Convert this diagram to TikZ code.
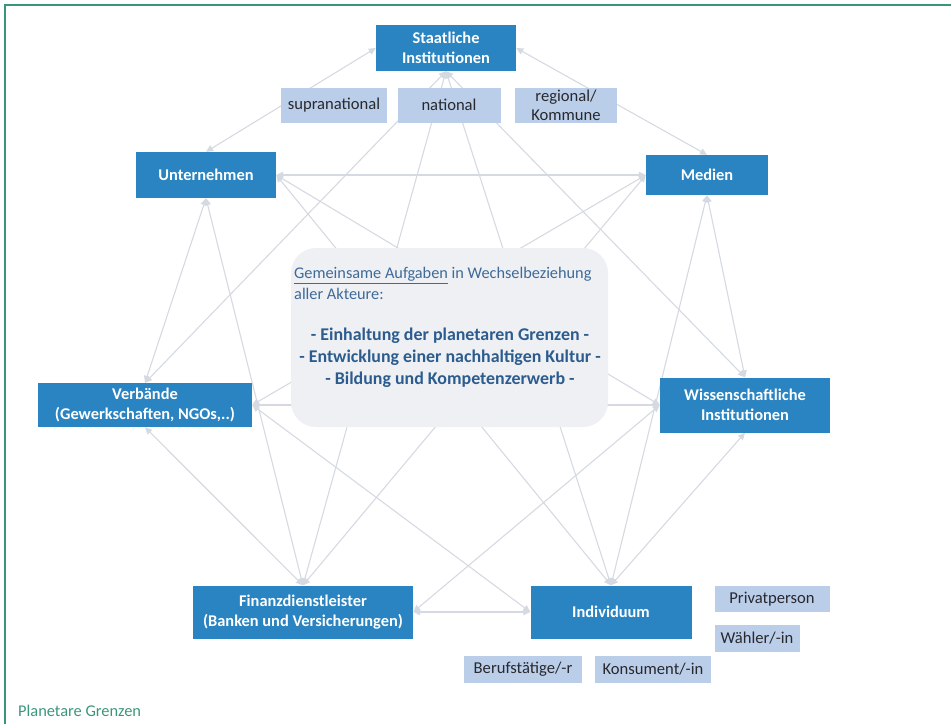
\documentclass[tikz,border=0pt]{standalone}
\usepackage{fontspec}
\setmainfont{Carlito}
\usetikzlibrary{arrows.meta}
\usetikzlibrary{backgrounds}
\definecolor{akteur-blue}{RGB}{41, 132, 193}
\definecolor{ebene-blue}{RGB}{186, 206, 234}
\definecolor{ebene-text}{RGB}{40, 40, 45}
\definecolor{linie-grey}{RGB}{213, 217, 225}
\definecolor{kasten-grey}{RGB}{238, 240, 244}
\definecolor{intro-blue}{RGB}{62, 106, 153}
\definecolor{ziel-blue}{RGB}{44, 92, 142}
\definecolor{rahmen-green}{RGB}{58, 150, 122}

\begin{document}
\begin{tikzpicture}[x=1pt, y=-1pt,
                akteur/.style={fill=akteur-blue, text=white, font=\bfseries\fontsize{16.4}{20}\selectfont, align=center, inner sep=0pt},
                ebene/.style={fill=ebene-blue, text=ebene-text, font=\fontsize{16.6}{19}\selectfont, align=center, inner sep=0pt},
                beziehung/.style={draw=linie-grey, line width=1.1pt, {Triangle[length=7pt,width=6.5pt]}-{Triangle[length=7pt,width=6.5pt]}}]
                \useasboundingbox (0, 0) rectangle (951, 724);
                \node[akteur, minimum width=140pt, minimum height=46pt] (staat) at (446, 48) {Staatliche\\Institutionen};
                \node[akteur, minimum width=140pt, minimum height=46pt] (unternehmen) at (206, 175) {Unternehmen};
                \node[akteur, minimum width=122pt, minimum height=40pt] (medien) at (707, 175) {Medien};
                \node[akteur, minimum width=214pt, minimum height=44pt] (verbaende) at (145, 405) {Verbände\\(Gewerkschaften, NGOs,..)};
                \node[akteur, minimum width=170pt, minimum height=55pt] (wissenschaft) at (745, 405) {Wissenschaftliche\\Institutionen};
                \node[akteur, minimum width=220pt, minimum height=53pt] (finanz) at (303, 612) {Finanzdienstleister\\(Banken und Versicherungen)};
                \node[akteur, minimum width=161pt, minimum height=53pt] (individuum) at (611, 612) {Individuum};
                \node[ebene, minimum width=106pt, minimum height=35pt] (supranational) at (334, 105) {supranational};
                \node[ebene, minimum width=103pt, minimum height=35pt] (national) at (449, 105) {national};
                \node[ebene, minimum width=102pt, minimum height=35pt] (regional) at (566, 105) {regional/\\Kommune};
                \node[ebene, minimum width=115pt, minimum height=26pt] (privat) at (772, 599) {Privatperson};
                \node[ebene, minimum width=85pt, minimum height=27pt] (waehler) at (757, 638) {Wähler/-in};
                \node[ebene, minimum width=118pt, minimum height=27pt] (beruf) at (523, 669) {Berufstätige/-r};
                \node[ebene, minimum width=116pt, minimum height=27pt] (konsument) at (653, 669) {Konsument/-in};
                \node[fill=kasten-grey, rounded corners=25pt, minimum width=317pt, minimum height=179pt] (aufgaben) at (449.5, 337.5) {};
                \node[anchor=north west, text=intro-blue, align=left, inner sep=0pt, font=\fontsize{16.3}{21}\selectfont] (einleitung) at (294, 267) {\underline{Gemeinsame Aufgaben} in Wechselbeziehung\\aller Akteure:};
                \node[text=ziel-blue, align=center, inner sep=0pt, font=\bfseries\fontsize{17.9}{22}\selectfont] (ziele) at (450, 358) {- Einhaltung der planetaren Grenzen -\\- Entwicklung einer nachhaltigen Kultur -\\- Bildung und Kompetenzerwerb -};
                \node[anchor=base west, text=rahmen-green, inner sep=0pt, font=\fontsize{16.4}{18}\selectfont] (titel) at (18, 716) {Planetare Grenzen};
                \begin{scope}[on background layer]
                \draw[rahmen-green, line width=2.5pt] (951, 5) -- (5, 5) -- (5, 724);
                \draw[beziehung] (staat.west) -- (unternehmen.north);
                \draw[beziehung] (staat.east) -- (medien.north);
                \draw[beziehung] (staat.south) -- (verbaende.north);
                \draw[beziehung] (staat.south) -- (wissenschaft.north);
                \draw[beziehung] (staat.south) -- (finanz.north);
                \draw[beziehung] (staat.south) -- (individuum.north);
                \draw[beziehung] (unternehmen.east) -- (medien.west);
                \draw[beziehung] (unternehmen.south) -- (verbaende.north);
                \draw[beziehung] (unternehmen.south) -- (finanz.north);
                \draw[beziehung] (unternehmen.east) -- (wissenschaft.west);
                \draw[beziehung] (unternehmen.east) -- (individuum.north);
                \draw[beziehung] (medien.west) -- (verbaende.east);
                \draw[beziehung] (medien.west) -- (finanz.north);
                \draw[beziehung] (medien.south) -- (wissenschaft.north);
                \draw[beziehung] (medien.south) -- (individuum.north);
                \draw[beziehung] (verbaende.east) -- (wissenschaft.west);
                \draw[beziehung] (verbaende.south) -- (finanz.north);
                \draw[beziehung] (verbaende.east) -- (individuum.west);
                \draw[beziehung] (wissenschaft.west) -- (finanz.east);
                \draw[beziehung] (wissenschaft.south) -- (individuum.north);
                \draw[beziehung] (finanz.east) -- (individuum.west);
                \end{scope}
            \end{tikzpicture}
\end{document}
